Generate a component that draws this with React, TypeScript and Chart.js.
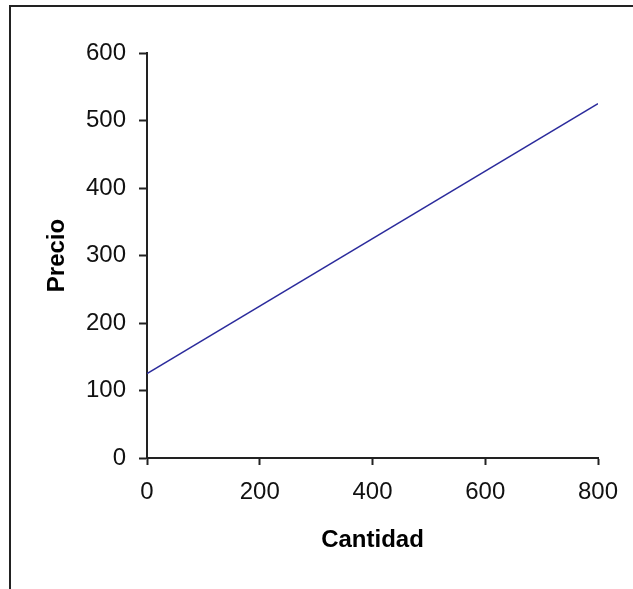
import React, { useEffect, useRef } from "react";
import { Chart, registerables } from "chart.js";

Chart.register(...registerables);

const cantidad: number[] = [0, 800];
const precio: number[] = [125, 525];
const xTicks: number[] = [0, 200, 400, 600, 800];
const yTicks: number[] = [0, 100, 200, 300, 400, 500, 600];
const xTitle = "Cantidad";
const yTitle = "Precio";

const FONT = "'Liberation Sans', Arial, sans-serif";
const BOLD = "'Liberation Sans', Arial, sans-serif";

export default function App() {
  const ref = useRef<HTMLCanvasElement | null>(null);

  useEffect(() => {
    if (!ref.current) return;
    const chart = new Chart(ref.current, {
      type: "scatter",
      data: {
        datasets: [
          {
            data: cantidad.map((q, i) => ({ x: q, y: precio[i] })),
            showLine: true,
            borderColor: "#2b2b9c",
            borderWidth: 1.5,
            pointRadius: 0,
            pointHoverRadius: 0,
            fill: false,
          },
        ],
      },
      options: {
        responsive: false,
        animation: false,
        events: [],
        layout: { padding: { left: 0, top: 53, right: 35, bottom: 0 } },
        plugins: { legend: { display: false }, tooltip: { enabled: false } },
        scales: {
          x: {
            type: "linear",
            min: xTicks[0],
            max: xTicks[xTicks.length - 1],
            afterBuildTicks: (s: any) => {
              s.ticks = xTicks.map((v) => ({ value: v }));
            },
            afterFit: (s: any) => {
              s.height = 131;
            },
            border: { display: true, color: "#222", width: 2 },
            grid: { drawOnChartArea: false, drawTicks: true, tickLength: 7, color: "#222", tickWidth: 2 },
            ticks: { color: "#111", padding: 13, font: { family: FONT, size: 24 }, maxRotation: 0 },
            title: {
              display: true,
              text: xTitle,
              color: "#000",
              font: { family: BOLD, size: 24, weight: "bold" },
              padding: { top: 0, bottom: 34 },
            },
          },
          y: {
            type: "linear",
            min: yTicks[0],
            max: yTicks[yTicks.length - 1],
            afterBuildTicks: (s: any) => {
              s.ticks = yTicks.map((v) => ({ value: v }));
            },
            afterFit: (s: any) => {
              s.width = 147;
            },
            border: { display: true, color: "#222", width: 2 },
            grid: { drawOnChartArea: false, drawTicks: true, tickLength: 8, color: "#222", tickWidth: 2 },
            ticks: { color: "#111", padding: 13, font: { family: FONT, size: 24 } },
            title: {
              display: true,
              text: yTitle,
              color: "#000",
              font: { family: BOLD, size: 24, weight: "bold" },
              padding: { top: 43, bottom: 0 },
            },
          },
        },
      },
    });
    return () => chart.destroy();
  }, []);

  return (
    <div style={{ position: "fixed", left: 0, top: 0, width: 633, height: 589, background: "#fff", overflow: "hidden" }}>
      <div
        style={{
          position: "absolute",
          left: 9,
          top: 5,
          width: 700,
          height: 700,
          borderTop: "2px solid #222",
          borderLeft: "2px solid #222",
        }}
      />
      <canvas ref={ref} width={633} height={589} style={{ position: "absolute", left: 0, top: 0, width: 633, height: 589 }} />
    </div>
  );
}
